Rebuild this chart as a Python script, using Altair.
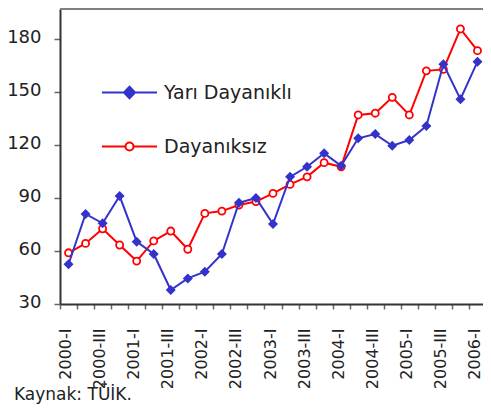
import json
import altair as alt
import pandas as pd

quarters = ["2000-I", "2000-II", "2000-III", "2000-IV",
            "2001-I", "2001-II", "2001-III", "2001-IV",
            "2002-I", "2002-II", "2002-III", "2002-IV",
            "2003-I", "2003-II", "2003-III", "2003-IV",
            "2004-I", "2004-II", "2004-III", "2004-IV",
            "2005-I", "2005-II", "2005-III", "2005-IV",
            "2006-I"]
yari_dayanikli = [52.5, 81, 75.7, 91.1, 65.3, 58.3, 37.9, 44.5, 48.3, 58.3,
                  87.3, 90, 75.3, 102, 107.7, 115.3, 108.3, 123.8, 126.2,
                  119.6, 122.8, 130.8, 165.7, 145.9, 167.2]
dayaniksiz = [59, 64.3, 72.6, 63.4, 54.3, 65.7, 71.3, 61, 81.3, 82.6, 86,
              88, 92.6, 97.7, 102, 110, 107.7, 137, 138, 147, 137, 162,
              162.8, 185.7, 173.4]
series_names = ["Yarı Dayanıklı", "Dayanıksız"]
y_ticks = [30, 60, 90, 120, 150, 180]
shown_labels = quarters[::2]

BLUE = "#3333CC"
RED = "#FF0000"
FONT = "DejaVu Sans"
TXT = "#222222"

W = 423
H = 295

rows = []
for q, v in zip(quarters, yari_dayanikli):
    rows.append({"quarter": q, "value": v, "series": series_names[0]})
for q, v in zip(quarters, dayaniksiz):
    rows.append({"quarter": q, "value": v, "series": series_names[1]})
df = pd.DataFrame(rows)

label_expr = ("indexof(" + json.dumps(shown_labels) +
              ", datum.value) >= 0 ? datum.value : ''")

x_enc = alt.X(
    "quarter:N", sort=quarters, title=None, bandPosition=0.5,
    scale=alt.Scale(type="band", paddingInner=0, paddingOuter=0,
                    range=[0, 426]),
    axis=alt.Axis(tickBand="extent", tickSize=5, tickColor="#666666",
                  tickWidth=1.5, domainColor="#333333", domainWidth=2,
                  labelAngle=270, labelAlign="right", labelBaseline="middle",
                  labelPadding=19, labelFontSize=16, labelFont=FONT,
                  labelColor=TXT, labelOverlap=False, labelExpr=label_expr,
                  labelOffset=-3, grid=False),
)
y_enc = alt.Y(
    "value:Q", title=None,
    scale=alt.Scale(domain=[30, 197], nice=False, zero=False),
    axis=alt.Axis(values=y_ticks, tickSize=6, tickColor="#666666",
                  tickWidth=1.5, domainColor="#333333", domainWidth=2,
                  labelPadding=13, labelFontSize=18, labelFont=FONT,
                  labelColor=TXT, labelOffset=-2, grid=False),
)

base = alt.Chart(df)

top_border = alt.Chart(df).mark_rule(color="#808080", strokeWidth=2).encode(
    x=alt.value(0), x2=alt.value(W), y=alt.value(0))

red_line = base.transform_filter(alt.datum.series == series_names[1]).mark_line(
    color=RED, strokeWidth=2).encode(x=x_enc, y=y_enc)
red_pts = base.transform_filter(alt.datum.series == series_names[1]).mark_point(
    shape="circle", size=50, fill="white", stroke=RED, strokeWidth=1.8,
    opacity=1, filled=False).encode(x=x_enc, y=y_enc)
blue_line = base.transform_filter(alt.datum.series == series_names[0]).mark_line(
    color=BLUE, strokeWidth=2).encode(x=x_enc, y=y_enc)
blue_pts = base.transform_filter(alt.datum.series == series_names[0]).mark_point(
    shape="diamond", size=100, filled=True, color=BLUE, strokeWidth=1,
    opacity=1).encode(x=x_enc, y=y_enc)

path_blue = "M-1.04,0H1.04M0,-0.22L0.21,0L0,0.22L-0.21,0Z"
r = 0.151
path_red = (f"M-1.04,0H-{r}M{r},0H1.04"
            f"M-{r},0A{r},{r} 0 1,0 {r},0A{r},{r} 0 1,0 -{r},0Z")

leg = alt.Legend(title=None, orient="none", legendX=42, legendY=56,
                 symbolSize=2809, symbolStrokeWidth=2, labelFontSize=19,
                 labelFont=FONT, labelColor=TXT, labelOffset=7,
                 rowPadding=16, padding=0, labelLimit=300, symbolOpacity=1)

ghost = base.transform_filter("false").mark_point(
    filled=True, strokeWidth=2, opacity=1).encode(
    x=x_enc, y=y_enc,
    shape=alt.Shape("series:N", scale=alt.Scale(domain=series_names,
                    range=[path_blue, path_red]), legend=leg),
    stroke=alt.Stroke("series:N", scale=alt.Scale(domain=series_names,
                      range=[BLUE, RED]), legend=leg),
    fill=alt.Fill("series:N", scale=alt.Scale(domain=series_names,
                  range=[BLUE, "white"]), legend=leg),
)

chart = alt.layer(top_border, red_line, red_pts, blue_line, blue_pts,
                  ghost).properties(
    width=W, height=H,
    autosize=alt.AutoSizeParams(type="none"),
    padding={"left": 52, "top": 1, "right": 0, "bottom": 100},
    title=alt.TitleParams("Kaynak: TÜİK.", orient="bottom", anchor="start",
                          frame="group", fontSize=17, fontWeight="normal",
                          font=FONT, color=TXT, dx=-46, offset=-2),
).configure_view(stroke=None)

chart.save("out.html", embed_options={"renderer": "svg", "actions": False})
